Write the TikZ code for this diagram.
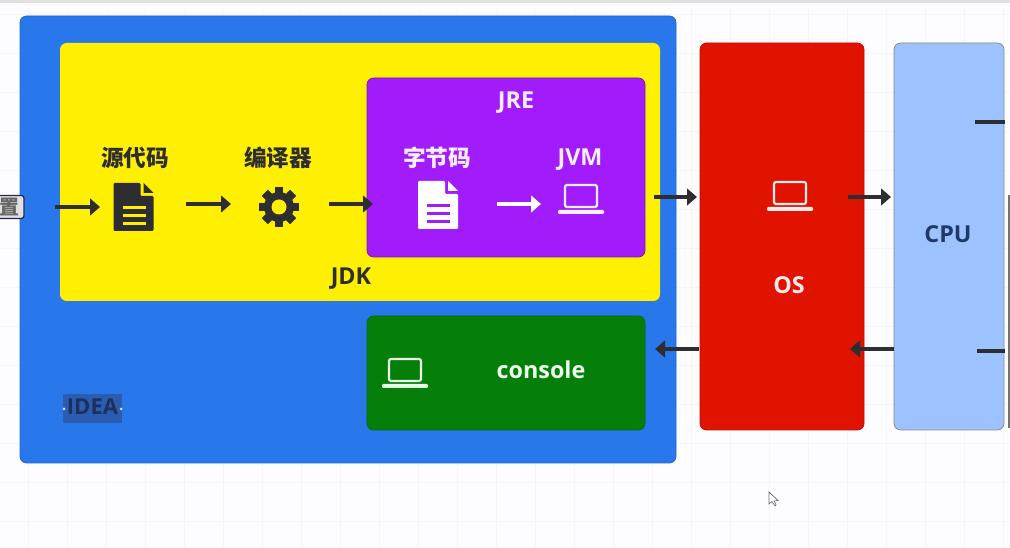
\documentclass[tikz,border=0pt]{standalone}
\usepackage{fontspec}
\setmainfont{Open Sans}
\newfontfamily\cjk{Noto Sans CJK SC}
\definecolor{bgc}{HTML}{FDFCFE}
\definecolor{gridc}{HTML}{F6F5F8}
\definecolor{blueb}{HTML}{2878EC}
\definecolor{yellowb}{HTML}{FFEF00}
\definecolor{purpleb}{HTML}{A21CFB}
\definecolor{greenb}{HTML}{067F0A}
\definecolor{redb}{HTML}{E01300}
\definecolor{cpub}{HTML}{9CC3FF}
\definecolor{inkc}{HTML}{2E2E32}
\definecolor{softw}{HTML}{FBEFFF}
\definecolor{cputext}{HTML}{1F3A66}
\definecolor{selc}{HTML}{2A5CAF}
\definecolor{ideat}{HTML}{1F2F5C}
\tikzset{
  boxn/.style={rectangle,rounded corners=5pt,inner sep=0pt,line width=.6pt},
  lab/.style={inner sep=0pt,font=\bfseries\fontsize{17.5}{20}\selectfont},
  cjklab/.style={inner sep=0pt,font=\cjk\bfseries\fontsize{17}{20}\selectfont},
  flow/.style={line width=3.2pt,draw=inkc,-{Triangle[length=7.5pt,width=12.5pt]}},
  stub/.style={line width=3pt,draw=inkc},
  pics/laptop/.style={code={
    \draw[line width=1.6pt,rounded corners=1.5pt] (-16,-13) rectangle (16,9);
    \fill[rounded corners=.8pt] (-23,12) rectangle (23,16);
  }},
  pics/docicon/.style 2 args={code={
    \fill[#1,rounded corners=.8pt] (-20,-24) -- (7,-24) -- (7,-11) -- (20,-11) -- (20,24) -- (-20,24) -- cycle;
    \fill[#1] (10,-24) -- (20,-14) -- (10,-14) -- cycle;
    \foreach \yy in {-1,7,15}{\fill[#2] (-11,\yy) rectangle (12,\yy+3.5);}
  }},
  pics/gearicon/.style={code={
    \foreach \a in {0,45,...,315}{\draw[inkc,line width=6.5pt] (0,0) -- (\a:20);}
    \fill[inkc] (0,0) circle[radius=15];
    \fill[yellowb] (0,0) circle[radius=7.5];
  }}
}
\usetikzlibrary{arrows.meta}
\begin{document}
\begin{tikzpicture}[x=.75pt,y=-.75pt]
\useasboundingbox (0,0) rectangle (1010,548);
\clip (0,0) rectangle (1010,548);
\fill[bgc] (0,0) rectangle (1010,548);
\foreach \g in {28,67,...,1010}{\draw[gridc,line width=.5pt] (\g,8) -- (\g,548);}
\foreach \g in {14,53,...,548}{\draw[gridc,line width=.5pt] (0,\g) -- (1010,\g);}
\fill[black!12] (0,0) rectangle (1010,3);
\fill[black!55] (1007.5,195) rectangle (1010,428);
% boxes
\node[boxn,fill=blueb,draw=blueb!85!black,minimum width=656*.75pt,minimum height=447*.75pt] (ideabox) at (348,239.5) {};
\node[boxn,fill=yellowb,minimum width=600*.75pt,minimum height=258*.75pt] (jdkbox) at (360,172) {};
\node[boxn,fill=purpleb,draw=purpleb!75!black,minimum width=278*.75pt,minimum height=179*.75pt] (jrebox) at (506,167.5) {};
\node[boxn,fill=greenb,draw=greenb!85!black,minimum width=278*.75pt,minimum height=114*.75pt] (consolebox) at (506,373) {};
\node[boxn,fill=redb,draw=redb!85!black,minimum width=164*.75pt,minimum height=387*.75pt] (osbox) at (782,236.5) {};
\node[boxn,fill=cpub,draw=black!45,minimum width=110*.75pt,minimum height=387*.75pt] (cpubox) at (949,236.5) {};
% keyboard stub
\node[rectangle,rounded corners=2pt,fill=black!12,draw=inkc!80!blue,line width=1pt,minimum width=34*.75pt,minimum height=23*.75pt,inner sep=0pt] (kbd) at (7,207) {};
\node[inner sep=0pt,text=black!60,font=\cjk\bfseries\fontsize{15}{17}\selectfont] (kbdtext) at (9,207) {置};
% labels
\node[cjklab,text=inkc] (t1) at (135,158) {源代码};
\node[cjklab,text=inkc] (t2) at (278,158) {编译器};
\node[cjklab,text=softw] (t3) at (437,158) {字节码};
\node[lab,text=softw] (t4) at (580,160) {JVM};
\node[lab,text=softw] (t5) at (516,103) {JRE};
\node[lab,text=inkc] (t6) at (351,279) {JDK};
\node[lab,text=white!93!green] (t7) at (541,370) {console};
\node[lab,text=white!92!red] (t8) at (789,285) {OS};
\node[lab,text=cputext] (t9) at (948,234) {CPU};
\node[fill=selc,minimum width=59*.75pt,minimum height=29*.75pt,inner sep=0pt] (ideasel) at (92.5,408.5) {};
\node[lab,text=ideat,font=\bfseries\fontsize{16.5}{20}\selectfont] (t10) at (92.5,407) {IDEA};
\fill[white!80!blueb] (64,409) circle[radius=1.5] (121,409) circle[radius=1.5];
% icons
\pic at (133.5,207) {docicon={inkc}{yellowb}};
\pic at (438,205) {docicon={white}{purpleb}};
\pic at (279,207) {gearicon};
\pic[softw] at (581,198) {laptop};
\pic[white!92!red] at (790,195) {laptop};
\pic[white!90!green] at (405,372) {laptop};
% connectors
\coordinate (a1s) at (55,207); \coordinate (a1e) at (100,207);
\coordinate (a2s) at (186,204); \coordinate (a2e) at (231,204);
\coordinate (a3s) at (329,204); \coordinate (a3e) at (373,204);
\coordinate (a4s) at (497,204); \coordinate (a4e) at (541,204);
\coordinate (a5s) at (654,197); \coordinate (a5e) at (697,197);
\coordinate (a6s) at (848,197); \coordinate (a6e) at (891,197);
\coordinate (a7s) at (699,349); \coordinate (a7e) at (655,349);
\coordinate (a8s) at (894,349); \coordinate (a8e) at (850,349);
\coordinate (s1s) at (975,122); \coordinate (s1e) at (1005,122);
\coordinate (s2s) at (977,351); \coordinate (s2e) at (1005,351);
\draw[flow] (a1s) -- (a1e);
\draw[flow] (a2s) -- (a2e);
\draw[flow] (a3s) -- (a3e);
\draw[flow,draw=white,-{Triangle[length=7.5pt,width=12.5pt]}] (a4s) -- (a4e);
\draw[flow] (a5s) -- (a5e);
\draw[flow] (a6s) -- (a6e);
\draw[flow] (a7s) -- (a7e);
\draw[flow] (a8s) -- (a8e);
\draw[stub] (s1s) -- (s1e);
\draw[stub] (s2s) -- (s2e);
% cursor
\draw[black!60,fill=white,line width=.5pt] (769,492) -- (769,504) -- (772,501.5) -- (775,506) -- (776,505) -- (774,501) -- (778,500.5) -- cycle;
\end{tikzpicture}
\end{document}
